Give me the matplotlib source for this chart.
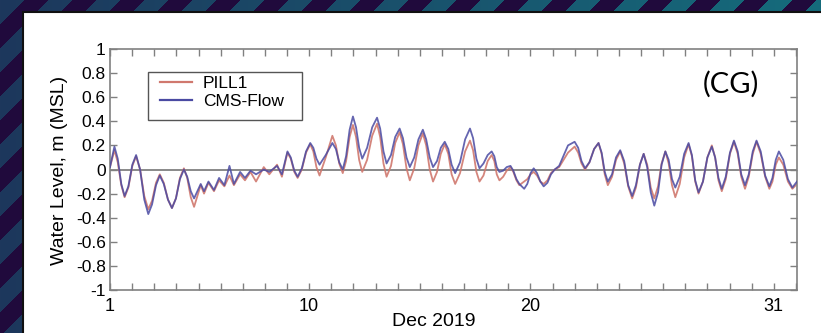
import numpy as np
import matplotlib.pyplot as plt
from matplotlib.patches import Rectangle

# time in days of Dec 2019, shared by both series
day = [1.00, 1.20, 1.35, 1.51, 1.66, 1.83, 2.01, 2.18, 2.36, 2.55, 2.73, 2.90, 3.08, 3.25,
       3.43, 3.62, 3.80, 3.98, 4.16, 4.34, 4.49, 4.65, 4.80, 5.10, 5.25, 5.45, 5.70, 5.93,
       6.17, 6.40, 6.60, 6.88, 7.10, 7.35, 7.60, 7.95, 8.20, 8.55, 8.77, 9.02, 9.17, 9.33,
       9.48, 9.67, 9.86, 10.05, 10.19, 10.33, 10.47, 10.75, 11.05, 11.21, 11.36, 11.52, 11.67,
       11.83, 11.98, 12.12, 12.26, 12.40, 12.62, 12.85, 13.07, 13.21, 13.36, 13.50, 13.70,
       13.89, 14.09, 14.24, 14.40, 14.55, 14.75, 14.94, 15.14, 15.29, 15.45, 15.60, 15.78,
       15.95, 16.13, 16.29, 16.44, 16.60, 16.82, 17.05, 17.27, 17.41, 17.56, 17.70, 17.88,
       18.07, 18.25, 18.37, 18.48, 18.60, 18.77, 18.93, 19.10, 19.23, 19.37, 19.50, 19.72,
       19.86, 20.01, 20.15, 20.30, 20.45, 20.60, 20.77, 20.93, 21.10, 21.30, 21.70, 22.00,
       22.16, 22.31, 22.47, 22.67, 22.88, 23.08, 23.22, 23.36, 23.50, 23.69, 23.87, 24.06,
       24.24, 24.42, 24.60, 24.77, 24.95, 25.12, 25.28, 25.44, 25.60, 25.77, 25.93, 26.10,
       26.25, 26.40, 26.55, 26.75, 26.95, 27.15, 27.30, 27.45, 27.60, 27.80, 28.00, 28.20,
       28.35, 28.50, 28.65, 28.83, 29.02, 29.20, 29.37, 29.53, 29.70, 29.87, 30.05, 30.22,
       30.41, 30.61, 30.80, 30.94, 31.09, 31.23, 31.43, 31.64, 31.84, 32.05]

# PILL1 gauge water level, m (MSL)
pill_wl = [0.02, 0.16, 0.06, -0.13, -0.23, -0.15, 0.03, 0.11, 0.00, -0.22, -0.33, -0.26, -0.11, -0.04,
           -0.11, -0.25, -0.32, -0.24, -0.07, 0.01, -0.07, -0.23, -0.31, -0.13, -0.20, -0.11, -0.18, -0.09,
           -0.14, -0.05, -0.13, -0.04, -0.09, -0.02, -0.10, 0.02, -0.04, 0.04, -0.06, 0.14, 0.09, -0.02,
           -0.07, 0.00, 0.14, 0.21, 0.15, 0.02, -0.05, 0.10, 0.28, 0.20, 0.05, -0.03, 0.07,
           0.27, 0.37, 0.27, 0.08, -0.02, 0.08, 0.28, 0.38, 0.27, 0.05, -0.06, 0.03,
           0.22, 0.31, 0.21, 0.01, -0.09, 0.01, 0.20, 0.30, 0.20, 0.00, -0.10, -0.02,
           0.13, 0.21, 0.13, -0.04, -0.12, -0.03, 0.15, 0.24, 0.16, -0.02, -0.10, -0.05,
           0.07, 0.12, 0.07, -0.04, -0.09, -0.06, -0.01, 0.02, -0.02, -0.09, -0.13, -0.10,
           -0.08, -0.04, -0.02, -0.05, -0.10, -0.12, -0.09, -0.03, 0.00, 0.02, 0.14, 0.19,
           0.14, 0.05, 0.00, 0.06, 0.17, 0.22, 0.13, -0.04, -0.13, -0.06, 0.08, 0.15,
           0.05, -0.14, -0.24, -0.15, 0.04, 0.13, 0.04, -0.15, -0.24, -0.14, 0.05, 0.15,
           0.05, -0.13, -0.23, -0.12, 0.10, 0.21, 0.11, -0.10, -0.20, -0.10, 0.10, 0.20,
           0.10, -0.09, -0.18, -0.08, 0.13, 0.23, 0.13, -0.06, -0.16, -0.06, 0.13, 0.23,
           0.13, -0.06, -0.16, -0.10, 0.04, 0.10, 0.04, -0.10, -0.16, -0.12]

# CMS-Flow model water level, m (MSL)
cms_wl = [0.02, 0.19, 0.09, -0.12, -0.22, -0.14, 0.04, 0.12, 0.00, -0.25, -0.37, -0.29, -0.13, -0.05,
          -0.12, -0.25, -0.32, -0.24, -0.08, 0.00, -0.06, -0.18, -0.24, -0.12, -0.18, -0.10, -0.17, -0.07,
          -0.13, 0.03, -0.12, -0.02, -0.07, -0.01, -0.04, 0.00, -0.02, 0.03, -0.04, 0.15, 0.10, -0.01,
          -0.06, 0.01, 0.15, 0.22, 0.18, 0.09, 0.04, 0.12, 0.22, 0.17, 0.06, 0.00, 0.11,
          0.33, 0.44, 0.35, 0.18, 0.09, 0.18, 0.35, 0.43, 0.34, 0.15, 0.05, 0.12,
          0.27, 0.34, 0.26, 0.10, 0.02, 0.10, 0.25, 0.33, 0.25, 0.10, 0.02, 0.07,
          0.18, 0.23, 0.17, 0.04, -0.03, 0.06, 0.25, 0.34, 0.26, 0.09, 0.01, 0.05,
          0.12, 0.15, 0.11, 0.02, -0.02, -0.01, 0.02, 0.03, -0.01, -0.08, -0.12, -0.16,
          -0.12, -0.03, 0.01, -0.03, -0.10, -0.14, -0.11, -0.04, 0.00, 0.03, 0.20, 0.23,
          0.18, 0.07, 0.01, 0.06, 0.17, 0.22, 0.14, -0.02, -0.10, -0.04, 0.10, 0.16,
          0.07, -0.13, -0.22, -0.13, 0.04, 0.13, 0.02, -0.19, -0.30, -0.19, 0.04, 0.15,
          0.08, -0.08, -0.15, -0.06, 0.13, 0.22, 0.12, -0.09, -0.19, -0.10, 0.10, 0.19,
          0.10, -0.07, -0.16, -0.06, 0.14, 0.24, 0.15, -0.04, -0.13, -0.04, 0.15, 0.24,
          0.15, -0.05, -0.14, -0.07, 0.08, 0.15, 0.08, -0.08, -0.15, -0.10]

y_ticks = [-1, -0.8, -0.6, -0.4, -0.2, 0, 0.2, 0.4, 0.6, 0.8, 1]
y_tick_labels = ['-1', '-0.8', '-0.6', '-0.4', '-0.2', '0', '0.2', '0.4', '0.6', '0.8', '1']
x_ticks = list(range(1, 33))
x_tick_labels = {1: '1', 10: '10', 20: '20', 31: '31'}

W, H = 821, 333
plt.rcParams['font.family'] = ['Liberation Sans', 'DejaVu Sans']
fig = plt.figure(figsize=(W / 100, H / 100), dpi=100)

# striped slide backdrop with the white panel on top
yy, xx = np.mgrid[0:H, 0:W]
band = ((xx + yy) % 48) < 24
dark = np.array([0x20, 0x0a, 0x3c]) / 255
c_left = np.array([0x1d, 0x37, 0x5c]) / 255
c_right = np.array([0x15, 0x6c, 0x7c]) / 255
t = (xx / W)[..., None]
light = c_left * (1 - t) + c_right * t
img = np.where(band[..., None], light, dark)

bg = fig.add_axes([0, 0, 1, 1])
bg.imshow(img, extent=[0, W, H, 0], aspect='auto', interpolation='bilinear')
bg.add_patch(Rectangle((23, 12), W, H, facecolor='white', edgecolor='#101010', lw=1.5))
bg.set_xlim(0, W)
bg.set_ylim(H, 0)
bg.axis('off')

ax = fig.add_axes([110 / W, (H - 290) / H, 687 / W, 241 / H])
ax.set_facecolor('white')
ax.axhline(0, color='#808080', lw=1.3, zorder=1)
ax.plot(day, pill_wl, color='#d0786e', lw=1.3, alpha=0.9, label='PILL1', zorder=2)
ax.plot(day, cms_wl, color='#4a4aa2', lw=1.3, alpha=0.85, label='CMS-Flow', zorder=3)

ax.set_xlim(1, 32.05)
ax.set_ylim(-1, 1)
ax.set_yticks(y_ticks)
ax.set_yticklabels(y_tick_labels, fontsize=12.5)
ax.set_xticks(x_ticks)
ax.set_xticklabels([x_tick_labels.get(d, '') for d in x_ticks], fontsize=13)
ax.tick_params(direction='in', length=5, width=1, color='#808080', top=True, right=True)
ax.tick_params(axis='y', pad=3)
ax.tick_params(axis='x', pad=6)
for s in ax.spines.values():
    s.set_color('#808080')
    s.set_linewidth(1.2)

# legend box drawn separately so it can be wider than its entries
ax.add_patch(Rectangle((148 / W, 1 - 120 / H), 154 / W, 48 / H, transform=fig.transFigure,
                       facecolor='white', edgecolor='#555555', lw=1.0, zorder=4, clip_on=False))
leg = ax.legend(loc='upper left', bbox_to_anchor=(160 / W, 1 - 76 / H),
                bbox_transform=fig.transFigure, borderaxespad=0, borderpad=0, frameon=False,
                fontsize=12.5, handlelength=1.85, handletextpad=0.63, labelspacing=0.15)
leg.set_zorder(5)
for line in leg.get_lines():
    line.set_alpha(1)
    line.set_linewidth(1.6)

fig.text(60 / W, 1 - 170 / H, 'Water Level, m (MSL)', rotation=90, ha='center', va='center',
         fontsize=14)
fig.text(434 / W, 1 - 322 / H, 'Dec 2019', ha='center', va='center', fontsize=14)
fig.text(731 / W, 1 - 84 / H, '(CG)', ha='center', va='center', fontsize=21, family='Lato')

fig.savefig('out.png', dpi=100)
